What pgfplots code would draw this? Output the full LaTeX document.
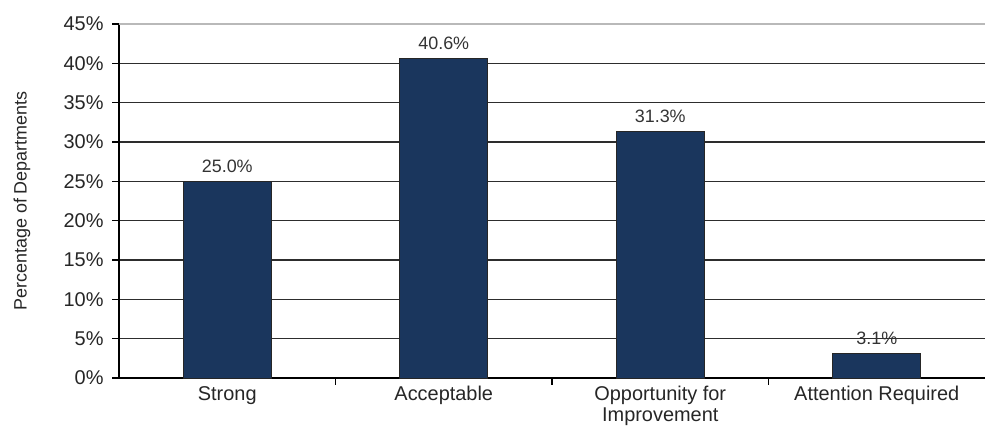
\documentclass[border=0pt]{standalone}
\usepackage{pgfplots}
\pgfplotsset{compat=1.18}
\usepackage{fontspec}
\setmainfont{Liberation Sans}
\definecolor{barnavy}{RGB}{26,54,93}
\definecolor{gridc}{RGB}{45,45,45}
\begin{document}
\begin{tikzpicture}[x=1bp,y=1bp]
\useasboundingbox (0,0) rectangle (985,436);
\begin{axis}[
  at={(119bp,58bp)}, anchor=south west,
  scale only axis, width=866bp, height=354bp,
  xmin=-0.5, xmax=3.5, ymin=0, ymax=45,
  axis x line*=bottom, axis y line*=left,
  axis line style={black, line width=1.3bp},
  ticklabel style={font=\fontsize{20}{22}\selectfont, text=black!85},
  tick align=outside,
  tick style={black, line width=1.2bp},
  major tick length=7bp,
  xtick={0.5,1.5,2.5}, xticklabels={},
  extra x ticks={0,1,2,3},
  extra x tick labels={Strong,Acceptable,{Opportunity for\\Improvement},Attention Required},
  extra x tick style={major tick length=0pt, xticklabel style={align=center, yshift=-5bp, font=\fontsize{20}{21}\selectfont}},
  ytick={0,5,...,40},
  yticklabels={0\%,5\%,10\%,15\%,20\%,25\%,30\%,35\%,40\%},
  extra y ticks={45}, extra y tick labels={45\%},
  extra y tick style={grid style={gray!55, line width=1.3bp}},
  yticklabel style={xshift=-5bp},
  ymajorgrids,
  grid style={gridc, line width=1.5bp},
  ylabel={Percentage of Departments},
  ylabel style={at={(axis description cs:-0.1120,0.5)}, anchor=center, font=\fontsize{18}{20}\selectfont, text=black!85},
  /pgf/number format/assume math mode=true,
  nodes near coords={\pgfmathprintnumber[fixed,fixed zerofill,precision=1]{\pgfplotspointmeta}\%},
  every node near coord/.append style={anchor=south, yshift=5bp, font=\fontsize{18}{20}\selectfont, text=black!80},
  clip=false,
]
\addplot[ybar, bar width=88bp, fill=barnavy, draw=black!85, line width=0.8bp] coordinates {(0,25.0) (1,40.6) (2,31.3) (3,3.1)};
\end{axis}
\end{tikzpicture}
\end{document}
